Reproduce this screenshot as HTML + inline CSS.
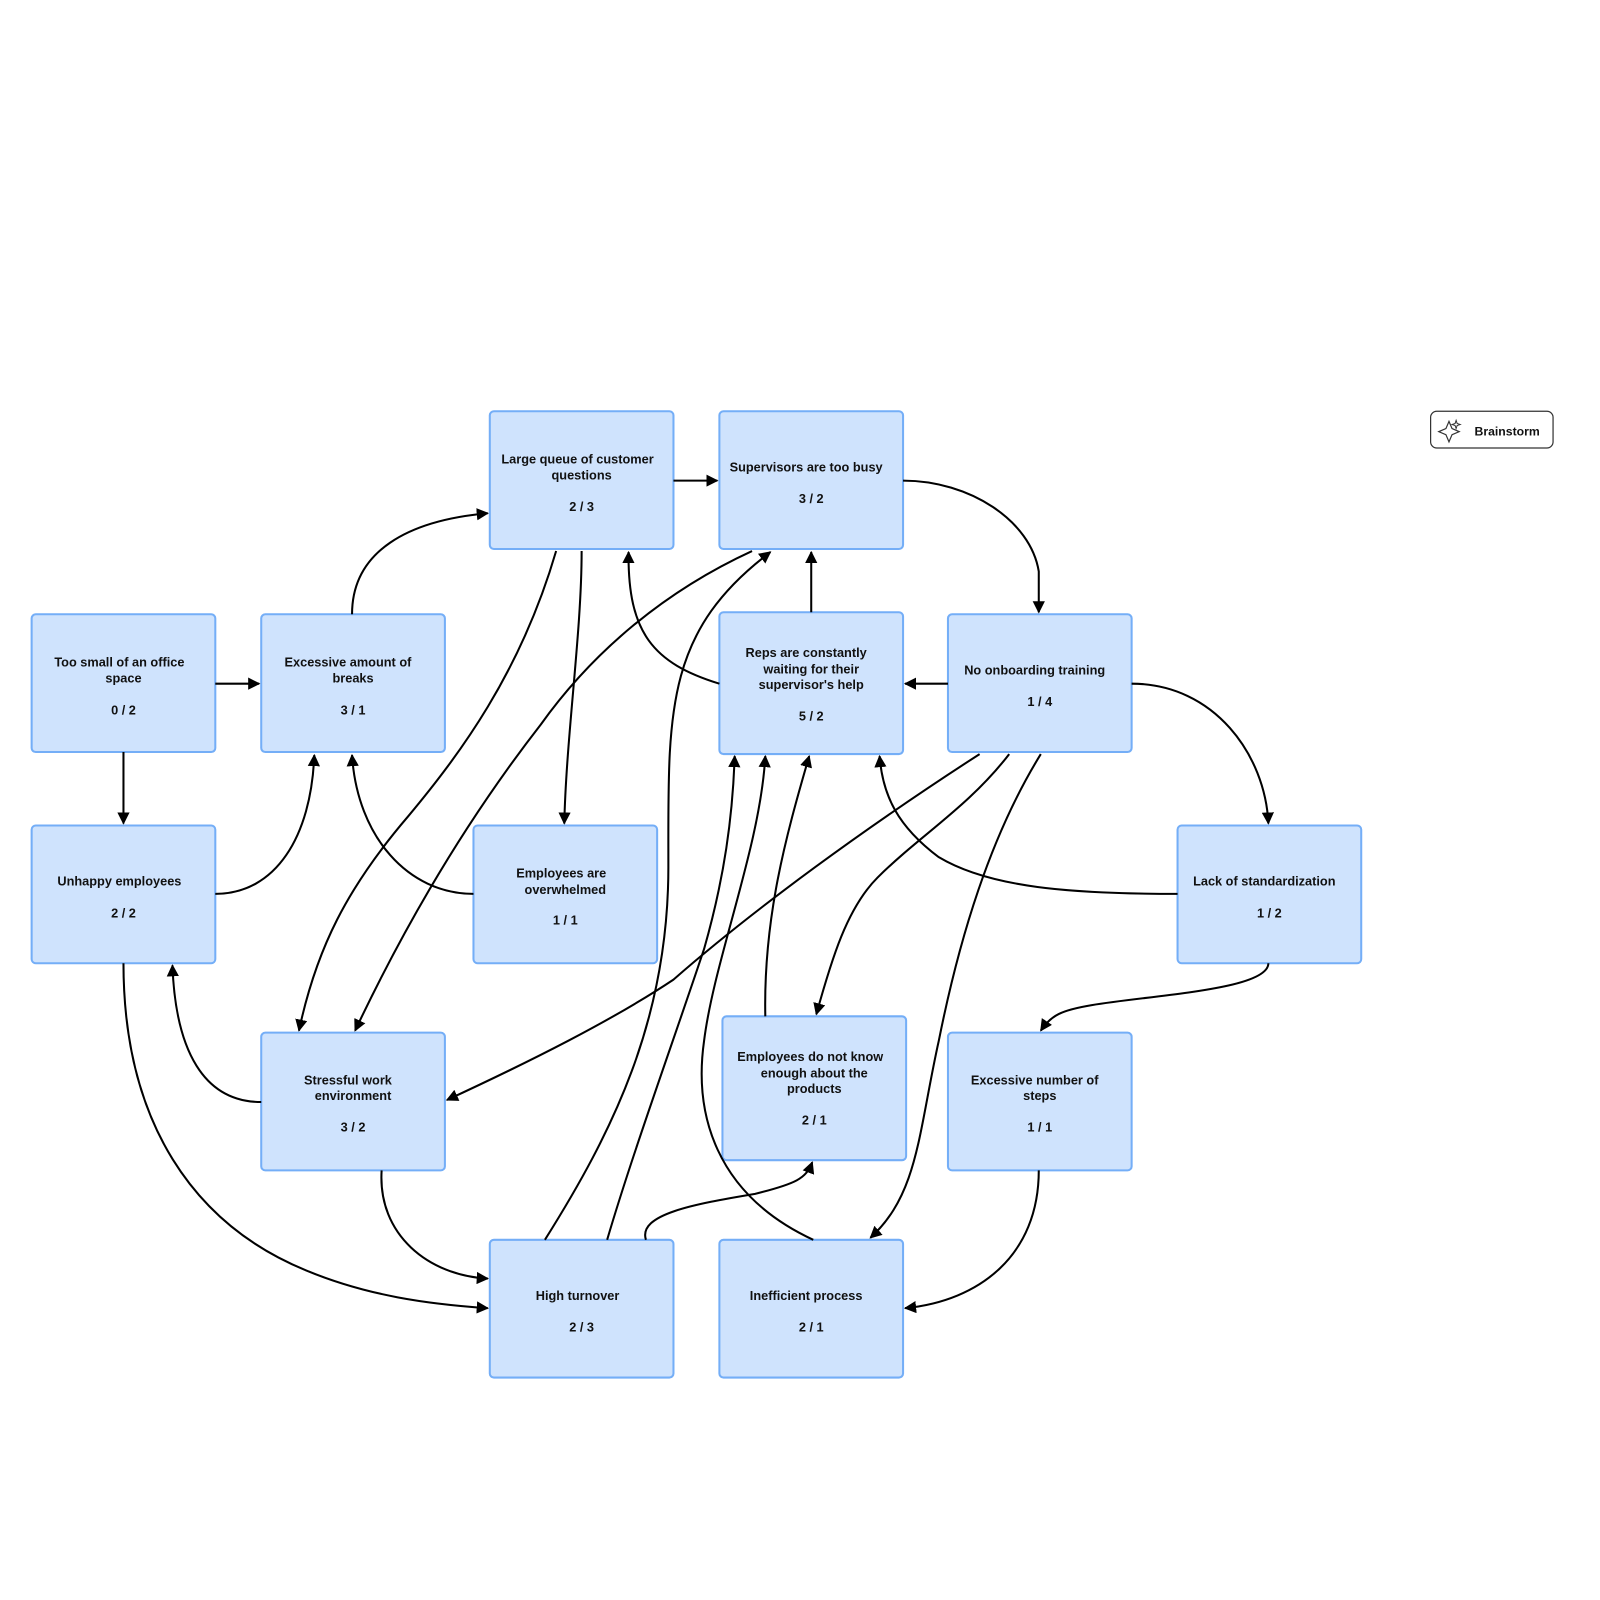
<!DOCTYPE html>
<html><head><meta charset="utf-8"><style>
html,body{margin:0;padding:0;background:#fff;}
svg{display:block;}
text{font-family:"Liberation Sans",sans-serif;font-weight:bold;font-size:12.5px;fill:#111;text-anchor:middle;}
.b{fill:#cfe3fd;stroke:#74aef7;stroke-width:2;}
.e{fill:none;stroke:#000;stroke-width:2;marker-end:url(#ah);}
</style></head><body>
<svg width="1600" height="1600" viewBox="0 0 1568 1568" xmlns="http://www.w3.org/2000/svg">
<defs><marker id="ah" viewBox="0 0 10 10" refX="9" refY="5" markerWidth="6" markerHeight="6" orient="auto" markerUnits="strokeWidth"><path d="M0,0 L10,5 L0,10 z" fill="#000"/></marker></defs>

<g>
<rect class="b" x="480" y="403" width="180" height="135" rx="4"/>
<text x="566" y="454">Large queue of customer</text><text x="570" y="470">questions</text><text x="570" y="501">2 / 3</text>
<rect class="b" x="705" y="403" width="180" height="135" rx="4"/>
<text x="790" y="462">Supervisors are too busy</text><text x="795" y="493">3 / 2</text>
<rect class="b" x="31" y="602" width="180" height="135" rx="4"/>
<text x="117" y="653">Too small of an office</text><text x="121" y="669">space</text><text x="121" y="700">0 / 2</text>
<rect class="b" x="256" y="602" width="180" height="135" rx="4"/>
<text x="341" y="653">Excessive amount of</text><text x="346" y="669">breaks</text><text x="346" y="700">3 / 1</text>
<rect class="b" x="705" y="600" width="180" height="139" rx="4"/>
<text x="790" y="644">Reps are constantly</text><text x="795" y="660">waiting for their</text><text x="795" y="675">supervisor's help</text><text x="795" y="706">5 / 2</text>
<rect class="b" x="929" y="602" width="180" height="135" rx="4"/>
<text x="1014" y="661">No onboarding training</text><text x="1019" y="692">1 / 4</text>
<rect class="b" x="31" y="809" width="180" height="135" rx="4"/>
<text x="117" y="868">Unhappy employees</text><text x="121" y="899">2 / 2</text>
<rect class="b" x="464" y="809" width="180" height="135" rx="4"/>
<text x="550" y="860">Employees are</text><text x="554" y="876">overwhelmed</text><text x="554" y="906">1 / 1</text>
<rect class="b" x="1154" y="809" width="180" height="135" rx="4"/>
<text x="1239" y="868">Lack of standardization</text><text x="1244" y="899">1 / 2</text>
<rect class="b" x="256" y="1012" width="180" height="135" rx="4"/>
<text x="341" y="1063">Stressful work</text><text x="346" y="1078">environment</text><text x="346" y="1109">3 / 2</text>
<rect class="b" x="708" y="996" width="180" height="141" rx="4"/>
<text x="794" y="1040">Employees do not know</text><text x="798" y="1056">enough about the</text><text x="798" y="1071">products</text><text x="798" y="1102">2 / 1</text>
<rect class="b" x="929" y="1012" width="180" height="135" rx="4"/>
<text x="1014" y="1063">Excessive number of</text><text x="1019" y="1078">steps</text><text x="1019" y="1109">1 / 1</text>
<rect class="b" x="480" y="1215" width="180" height="135" rx="4"/>
<text x="566" y="1274">High turnover</text><text x="570" y="1305">2 / 3</text>
<rect class="b" x="705" y="1215" width="180" height="135" rx="4"/>
<text x="790" y="1274">Inefficient process</text><text x="795" y="1305">2 / 1</text>
</g>

<g>
<path class="e" d="M211,670 L254,670"/>
<path class="e" d="M121,737 L121,807"/>
<path class="e" d="M345,602 C345,540 400,510 478,503"/>
<path class="e" d="M660,471 L703,471"/>
<path class="e" d="M885,471 C950,471 1010,510 1018,560 L1018,600"/>
<path class="e" d="M795,600 L795,541"/>
<path class="e" d="M929,670 L887,670"/>
<path class="e" d="M705,670 C640,650 615,620 616,541"/>
<path class="e" d="M1109,670 C1190,670 1240,740 1243,807"/>
<path class="e" d="M211,876 C270,876 305,820 308,740"/>
<path class="e" d="M464,876 C400,876 350,820 345,740"/>
<path class="e" d="M570,540 C570,620 555,720 553,807"/>
<path class="e" d="M545,540 C510,660 450,740 400,800 C340,870 310,930 293,1010"/>
<path class="e" d="M737,540 C650,580 580,640 530,710 C460,800 400,900 348,1010"/>
<path class="e" d="M960,739 C850,810 740,890 660,960 C600,1000 520,1040 438,1078"/>
<path class="e" d="M989,739 C950,790 900,820 860,860 C830,890 815,940 800,994"/>
<path class="e" d="M1020,739 C970,820 940,920 920,1020 C900,1110 900,1170 853,1213"/>
<path class="e" d="M1154,876 C1050,876 970,870 920,840 C880,810 865,780 862,741"/>
<path class="e" d="M1243,944 C1243,970 1130,975 1070,985 C1040,990 1030,995 1020,1010"/>
<path class="e" d="M256,1080 C200,1080 172,1030 169,946"/>
<path class="e" d="M121,944 C121,1100 190,1200 300,1245 C360,1270 420,1278 478,1282"/>
<path class="e" d="M374,1147 C370,1210 420,1250 478,1253"/>
<path class="e" d="M534,1215 C600,1110 655,1000 655,850 C655,700 650,620 755,541"/>
<path class="e" d="M595,1215 C620,1130 660,1020 690,930 C710,860 718,800 720,741"/>
<path class="e" d="M797,1215 C700,1170 680,1090 690,1020 C700,940 745,830 750,741"/>
<path class="e" d="M750,996 C748,900 770,820 793,741"/>
<path class="e" d="M633,1215 C625,1190 680,1180 740,1170 C780,1160 790,1155 796,1139"/>
<path class="e" d="M1018,1147 C1018,1230 960,1275 887,1282"/>
</g>

<g>
<rect x="1402" y="403" width="120" height="36" rx="6" fill="#fff" stroke="#333" stroke-width="1.2"/>
<path d="M1420,413 L1423,420 L1430,423 L1423,426 L1420,433 L1417,426 L1410,423 L1417,420 Z" fill="none" stroke="#333" stroke-width="1.2"/>
<path d="M1427,412 L1428,415 L1431,416 L1428,417 L1427,420 L1426,417 L1423,416 L1426,415 Z" fill="none" stroke="#333" stroke-width="1"/>
<text x="1477" y="427" style="font-size:12px">Brainstorm</text>
</g>
</svg>
</body></html>
